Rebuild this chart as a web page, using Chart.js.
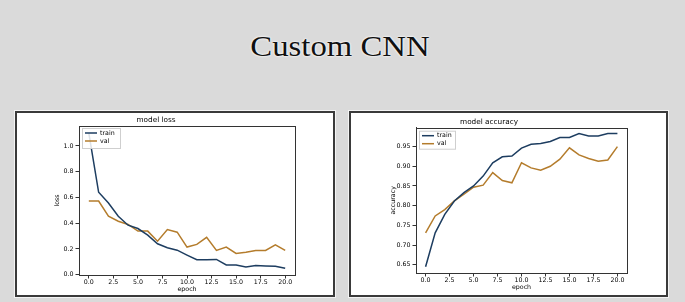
<!DOCTYPE html>
<html><head><meta charset="utf-8">
<script src="https://cdn.jsdelivr.net/npm/chart.js@4.4.0/dist/chart.umd.min.js"></script>
<style>
html,body{margin:0;padding:0;background:#dadada;width:685px;height:302px;overflow:hidden;position:relative}
#title{position:absolute;left:0;width:685px;top:32px;line-height:29px;text-align:center;font-family:"Liberation Serif",serif;font-size:29px;color:#111;text-shadow:0 0 2px #fff,0 0 2px #fff;transform:translateX(-2.5px) scaleX(1.13);transform-origin:center}
.panel{position:absolute;background:#fff;border:2px solid #3a3a3a;box-shadow:0 0 0 1px #f4f4f4}
.panel canvas{position:absolute;left:0;top:0}
</style></head>
<body>
<div id="title">Custom CNN</div>
<div class="panel" style="left:15px;top:111px;width:316px;height:182px"><canvas id="loss" width="316" height="182"></canvas></div>
<div class="panel" style="left:349px;top:111px;width:315px;height:182px"><canvas id="acc" width="315" height="182"></canvas></div>
<script>
const epochs = [0,1,2,3,4,5,6,7,8,9,10,11,12,13,14,15,16,17,18,19,20];
const lossTrain = [1.10,0.64,0.557,0.454,0.384,0.358,0.307,0.24,0.209,0.19,0.152,0.116,0.116,0.118,0.075,0.075,0.06,0.07,0.067,0.065,0.05];
const lossVal = [0.572,0.572,0.454,0.415,0.39,0.338,0.338,0.26,0.35,0.33,0.214,0.235,0.29,0.188,0.214,0.165,0.173,0.188,0.188,0.232,0.188];
const accTrain = [0.645,0.731,0.778,0.812,0.833,0.85,0.875,0.909,0.924,0.926,0.946,0.956,0.958,0.963,0.973,0.973,0.983,0.977,0.977,0.983,0.983];
const accVal = [0.731,0.774,0.79,0.812,0.829,0.847,0.852,0.884,0.864,0.858,0.909,0.896,0.89,0.90,0.918,0.947,0.929,0.92,0.913,0.916,0.95];
const xTicks = [0,2.5,5,7.5,10,12.5,15,17.5,20];
const lossTicks = [0,0.2,0.4,0.6,0.8,1.0];
const accTicks = [0.65,0.70,0.75,0.80,0.85,0.90,0.95];
const xRange = [-1,21];
const lossRange = [-0.003,1.155];
const accRange = [0.629,0.998];
const seriesNames = ['train','val'];
const colors = ['#1d3d60','#b47c2c'];

const FONT = 'DejaVu Sans';
const INK = '#000';

const framePlugin = {
  id:'frame',
  afterDatasetsDraw(chart){
    const a = chart.chartArea, c = chart.ctx;
    c.save(); c.strokeStyle = '#333'; c.lineWidth = 1;
    c.strokeRect(Math.round(a.left)+0.5, Math.round(a.top)+0.5, Math.round(a.right-a.left), Math.round(a.bottom-a.top));
    c.restore();
  }
};
const legendPlugin = {
  id:'inlegend',
  afterDraw(chart, args, opts){
    const a = chart.chartArea, c = chart.ctx;
    const x = a.left + opts.dx, y = a.top + opts.dy;
    c.save();
    c.fillStyle = 'rgba(255,255,255,0.85)';
    c.strokeStyle = '#cfcfcf'; c.lineWidth = 1;
    c.fillRect(x, y, opts.w, opts.h);
    c.strokeRect(x+0.5, y+0.5, opts.w, opts.h);
    chart.data.datasets.forEach((ds, i) => {
      const ly = y + opts.first + i*opts.gap;
      c.strokeStyle = ds.borderColor; c.lineWidth = 1.5;
      c.beginPath(); c.moveTo(x+3, ly); c.lineTo(x+15, ly); c.stroke();
      c.fillStyle = INK; c.font = '6.3px "' + FONT + '"'; c.textBaseline = 'middle';
      c.fillText(ds.label, x+18, ly);
    });
    c.restore();
  }
};

function makeChart(id, train, val, opt){
  const mk = (arr) => epochs.map((e,i) => ({x:e, y:arr[i]}));
  return new Chart(document.getElementById(id), {
    type:'line',
    data:{datasets:[
      {label:seriesNames[0], data:mk(train), borderColor:colors[0], borderWidth:1.5, pointRadius:0, tension:0, fill:false},
      {label:seriesNames[1], data:mk(val), borderColor:colors[1], borderWidth:1.5, pointRadius:0, tension:0, fill:false}
    ]},
    options:{
      responsive:false, animation:false, devicePixelRatio:1,
      layout:{padding:{left:0,right:opt.padRight,top:0,bottom:0}},
      plugins:{
        legend:{display:false}, tooltip:{enabled:false},
        title:{display:true, text:opt.title, color:INK, font:{family:FONT,size:7.3,weight:'normal'}, padding:{top:opt.titleTop,bottom:opt.titleBottom}},
        inlegend:opt.legend
      },
      scales:{
        x:{type:'linear', min:xRange[0], max:xRange[1],
          afterBuildTicks(s){ s.ticks = xTicks.map(v=>({value:v})); },
          afterFit(s){ s.height = opt.xHeight; },
          ticks:{color:INK, font:{family:FONT,size:6.3}, padding:0.5, maxRotation:0, autoSkip:false, callback:v=>Number(v).toFixed(1)},
          grid:{display:true, drawOnChartArea:false, drawTicks:true, tickLength:3.5, color:'#333'},
          border:{display:true,color:'#333',width:1},
          title:{display:true, text:'epoch', color:INK, font:{family:FONT,size:6.3}, padding:{top:0,bottom:opt.xTitleBottom}}
        },
        y:{type:'linear', min:opt.yRange[0], max:opt.yRange[1],
          afterBuildTicks(s){ s.ticks = opt.yTicks.map(v=>({value:v})); },
          afterFit(s){ s.width = opt.yWidth; },
          ticks:{color:INK, font:{family:FONT,size:6.3}, padding:2, autoSkip:false, callback:v=>Number(v).toFixed(opt.dec)},
          grid:{display:true, drawOnChartArea:false, drawTicks:true, tickLength:3.5, color:'#333'},
          border:{display:true,color:'#333',width:1},
          title:{display:true, text:opt.yTitle, color:INK, font:{family:FONT,size:6.3}, padding:{top:opt.yTitleTop,bottom:0}}
        }
      }
    },
    plugins:[framePlugin, legendPlugin]
  });
}

makeChart('loss', lossTrain, lossVal, {
  title:'model loss', yTitle:'loss', yTicks:lossTicks, yRange:lossRange, dec:1,
  padRight:38, titleTop:2.6, titleBottom:1.64, xHeight:20, xTitleBottom:1.9, yWidth:62, yTitleTop:37,
  legend:{dx:3, dy:2, w:38, h:20, first:5, gap:8}
});
makeChart('acc', accTrain, accVal, {
  title:'model accuracy', yTitle:'accuracy', yTicks:accTicks, yRange:accRange, dec:2,
  padRight:39, titleTop:4.3, titleBottom:1.64, xHeight:22, xTitleBottom:3.9, yWidth:65, yTitleTop:39,
  legend:{dx:3, dy:3, w:36, h:18, first:5, gap:8}
});
</script>
</body></html>
